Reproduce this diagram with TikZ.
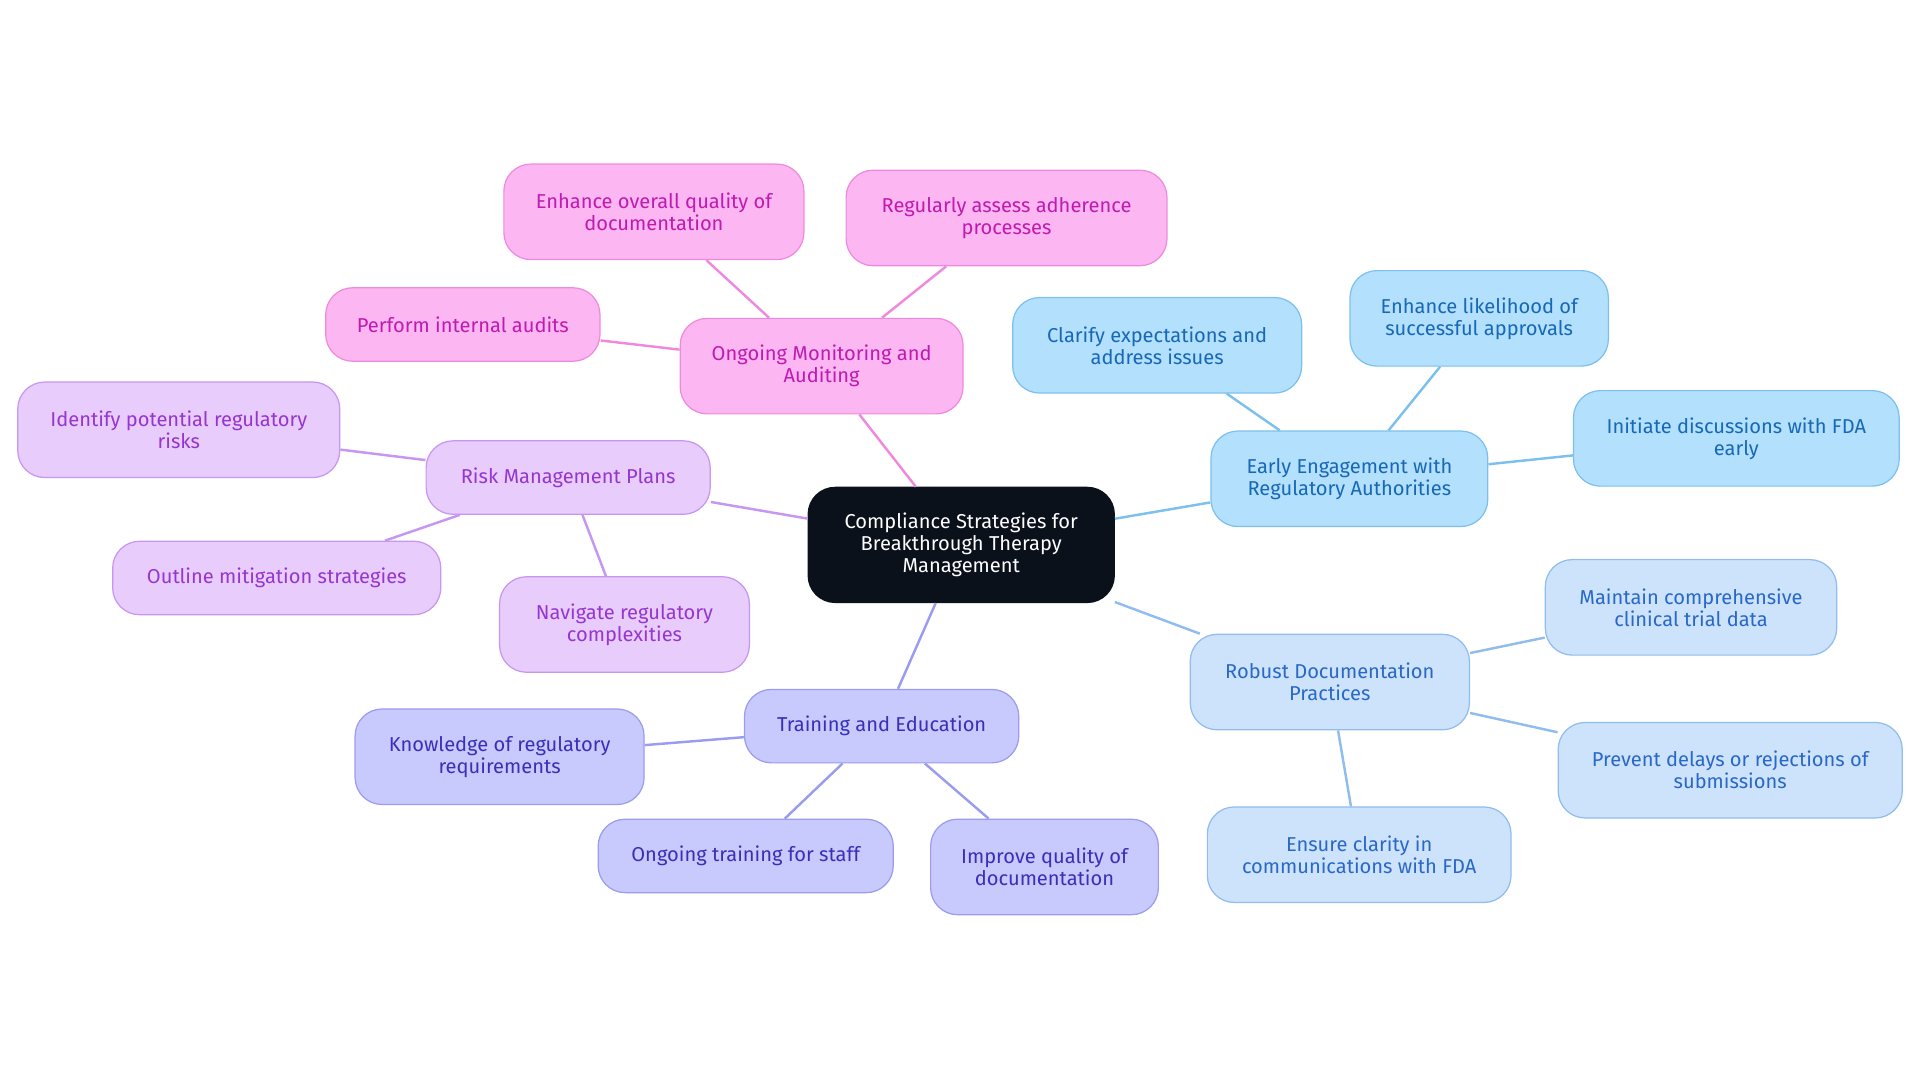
\documentclass[tikz,border=0pt]{standalone}
\usepackage{fontspec}
\setmainfont{Fira Sans}[Scale=1]
\begin{document}
\begin{tikzpicture}[x=0.5pt,y=-0.5pt,
 box/.style={rounded corners=11pt,align=center,font=\fontsize{8.2}{9}\selectfont,inner sep=0pt,line width=0.5pt},
 cen/.style={box,fill=cC,draw=cC,text=white,minimum width=125pt,minimum height=47pt},
 bA/.style={box,fill=fA,draw=dA,text=tA},
 bB/.style={box,fill=fB,draw=dB,text=tB},
 bC/.style={box,fill=fT,draw=dT,text=tT},
 bD/.style={box,fill=fR,draw=dR,text=tR},
 bE/.style={box,fill=fM,draw=dM,text=tM},
 eA/.style={draw=dA,line width=1pt},
 eB/.style={draw=dB,line width=1pt},
 eC/.style={draw=dT,line width=1pt},
 eD/.style={draw=dR,line width=1pt},
 eE/.style={draw=dM,line width=1pt},
 sz/.style 2 args={minimum width=#1*0.5pt,minimum height=#2*0.5pt}]
\definecolor{cC}{HTML}{0B111B}
\definecolor{fA}{HTML}{B3E0FC}\definecolor{dA}{HTML}{7CC0EE}\definecolor{tA}{HTML}{1868B8}
\definecolor{fB}{HTML}{CCE3FB}\definecolor{dB}{HTML}{90BCEE}\definecolor{tB}{HTML}{2A68C8}
\definecolor{fT}{HTML}{C8C9FC}\definecolor{dT}{HTML}{9A9CF0}\definecolor{tT}{HTML}{3A30B8}
\definecolor{fR}{HTML}{E8CCFC}\definecolor{dR}{HTML}{C796F0}\definecolor{tR}{HTML}{9636D0}
\definecolor{fM}{HTML}{FCB6F2}\definecolor{dM}{HTML}{EE8ADE}\definecolor{tM}{HTML}{C01AAE}
\useasboundingbox (0,0) rectangle (1568,884);
\node[cen] (c) at (785,445) {Compliance Strategies for\\Breakthrough Therapy\\Management};
\node[bA,sz={226}{78}] (ee) at (1102,391) {Early Engagement with\\Regulatory Authorities};
\node[bA,sz={236}{78}] (a1) at (945,282) {Clarify expectations and\\address issues};
\node[bA,sz={211}{78}] (a2) at (1208,260) {Enhance likelihood of\\successful approvals};
\node[bA,sz={266}{78}] (a3) at (1418,358) {Initiate discussions with FDA\\early};
\node[bB,sz={228}{78}] (rd) at (1086,557) {Robust Documentation\\Practices};
\node[bB,sz={238}{78}] (b1) at (1381,496) {Maintain comprehensive\\clinical trial data};
\node[bB,sz={281}{78}] (b2) at (1413,629) {Prevent delays or rejections of\\submissions};
\node[bB,sz={248}{78}] (b3) at (1110,698) {Ensure clarity in\\communications with FDA};
\node[bC,sz={224}{60}] (te) at (720,593) {Training and Education};
\node[bC,sz={236}{78}] (t1) at (408,618) {Knowledge of regulatory\\requirements};
\node[bC,sz={241}{60}] (t2) at (609,699) {Ongoing training for staff};
\node[bC,sz={186}{78}] (t3) at (853,708) {Improve quality of\\documentation};
\node[bD,sz={232}{60}] (rm) at (464,390) {Risk Management Plans};
\node[bD,sz={263}{78}] (r1) at (146,351) {Identify potential regulatory\\risks};
\node[bD,sz={268}{60}] (r2) at (226,472) {Outline mitigation strategies};
\node[bD,sz={204}{78}] (r3) at (510,510) {Navigate regulatory\\complexities};
\node[bE,sz={231}{78}] (om) at (671,299) {Ongoing Monitoring and\\Auditing};
\node[bE,sz={224}{60}] (m1) at (378,265) {Perform internal audits};
\node[bE,sz={245}{78}] (m2) at (534,173) {Enhance overall quality of\\documentation};
\node[bE,sz={262}{78}] (m3) at (822,178) {Regularly assess adherence\\processes};
\begin{scope}[on background layer/.style={}]
\end{scope}
\draw[eA] (c) -- (ee); \draw[eA] (ee) -- (a1); \draw[eA] (ee) -- (a2); \draw[eA] (ee) -- (a3);
\draw[eB] (c) -- (rd); \draw[eB] (rd) -- (b1); \draw[eB] (rd) -- (b2); \draw[eB] (rd) -- (b3);
\draw[eC] (c) -- (te); \draw[eC] (te) -- (t1); \draw[eC] (te) -- (t2); \draw[eC] (te) -- (t3);
\draw[eD] (c) -- (rm); \draw[eD] (rm) -- (r1); \draw[eD] (rm) -- (r2); \draw[eD] (rm) -- (r3);
\draw[eE] (c) -- (om); \draw[eE] (om) -- (m1); \draw[eE] (om) -- (m2); \draw[eE] (om) -- (m3);
\end{tikzpicture}
\end{document}
